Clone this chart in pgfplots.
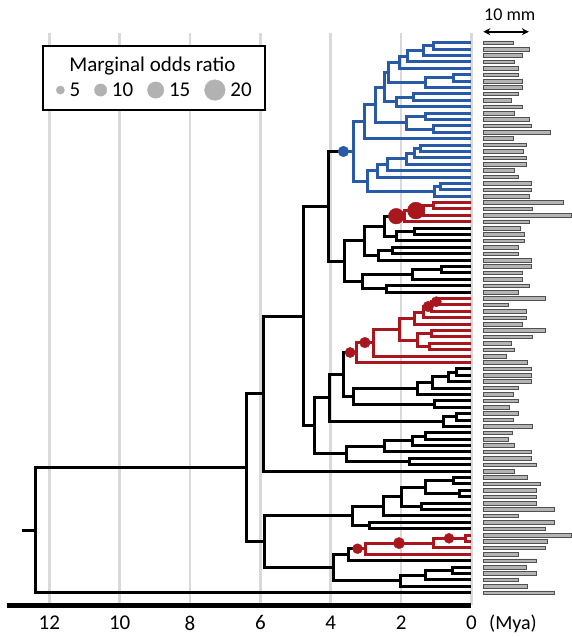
\documentclass[border=0pt]{standalone}
\usepackage{fontspec}
\setmainfont{Carlito}
\usepackage{pgfplots}
\pgfplotsset{compat=1.18}
\usepackage{pgfplotstable}
\usetikzlibrary{arrows.meta}

\definecolor{cladeblue}{RGB}{40,90,168}
\definecolor{cladered}{RGB}{168,22,30}
\definecolor{gridgray}{RGB}{217,217,217}
\definecolor{bargray}{RGB}{180,180,180}
\definecolor{baredge}{RGB}{80,80,80}
\definecolor{dotgray}{RGB}{178,178,178}

\newcommand{\bigfont}{\fontsize{21}{24}\selectfont}

% Tree branches: each bracket is (child1) -> (node) -> (node) -> (child2); x = age (Mya), y = tip row
\pgfplotstableread[row sep=\\]{
t y\\
0 0\\ 1.08 0\\ 1.08 1\\ 0 1\\ nan nan\\
1.08 0.5\\ 1.37 0.5\\ 1.37 2\\ 0 2\\ nan nan\\
1.37 1.25\\ 1.81 1.25\\ 1.81 3\\ 0 3\\ nan nan\\
1.81 2.125\\ 2.05 2.125\\ 2.05 4\\ 0 4\\ nan nan\\
0 5\\ 0.50 5\\ 0.50 6\\ 0 6\\ nan nan\\
0.50 5.5\\ 1.30 5.5\\ 1.30 7\\ 0 7\\ nan nan\\
2.05 3.0625\\ 2.36 3.0625\\ 2.36 6.25\\ 1.30 6.25\\ nan nan\\
0 8\\ 1.65 8\\ 1.65 9\\ 0 9\\ nan nan\\
1.65 8.5\\ 2.13 8.5\\ 2.13 10\\ 0 10\\ nan nan\\
2.36 4.656\\ 2.46 4.656\\ 2.46 9.25\\ 2.13 9.25\\ nan nan\\
0 11\\ 1.30 11\\ 1.30 12\\ 0 12\\ nan nan\\
0 13\\ 1.09 13\\ 1.09 14\\ 0 14\\ nan nan\\
1.30 11.5\\ 1.84 11.5\\ 1.84 13.5\\ 1.09 13.5\\ nan nan\\
2.46 6.953\\ 2.72 6.953\\ 2.72 12.5\\ 1.84 12.5\\ nan nan\\
2.72 9.727\\ 3.03 9.727\\ 3.03 15\\ 0 15\\ nan nan\\
0 16\\ 1.44 16\\ 1.44 17\\ 0 17\\ nan nan\\
1.44 16.5\\ 1.63 16.5\\ 1.63 18\\ 0 18\\ nan nan\\
1.63 17.25\\ 1.86 17.25\\ 1.86 19\\ 0 19\\ nan nan\\
1.86 18.125\\ 2.39 18.125\\ 2.39 20\\ 0 20\\ nan nan\\
2.39 19.0625\\ 2.67 19.0625\\ 2.67 21\\ 0 21\\ nan nan\\
0 22\\ 0.88 22\\ 0.88 23\\ 0 23\\ nan nan\\
0.88 22.5\\ 1.06 22.5\\ 1.06 24\\ 0 24\\ nan nan\\
2.67 20.031\\ 2.96 20.031\\ 2.96 23.25\\ 1.06 23.25\\ nan nan\\
3.03 12.363\\ 3.36 12.363\\ 3.36 21.641\\ 2.96 21.641\\ nan nan\\
3.64 17.002\\ 3.36 17.002\\
}\bluetree

\pgfplotstableread[row sep=\\]{
t y\\
0 25\\ 1.08 25\\ 1.08 26\\ 0 26\\ nan nan\\
1.08 25.5\\ 1.37 25.5\\ 1.37 27\\ 0 27\\ nan nan\\
1.37 26.25\\ 1.90 26.25\\ 1.90 28\\ 0 28\\ nan nan\\
2.14 27.125\\ 1.90 27.125\\ nan nan\\
0 40\\ 0.94 40\\ 0.94 41\\ 0 41\\ nan nan\\
0.94 40.5\\ 1.13 40.5\\ 1.13 42\\ 0 42\\ nan nan\\
1.13 41.25\\ 1.37 41.25\\ 1.37 43\\ 0 43\\ nan nan\\
1.37 42.125\\ 1.63 42.125\\ 1.63 44\\ 0 44\\ nan nan\\
0 45\\ 1.13 45\\ 1.13 46\\ 0 46\\ nan nan\\
0 47\\ 1.18 47\\ 1.18 48\\ 0 48\\ nan nan\\
1.13 45.5\\ 1.54 45.5\\ 1.54 47.5\\ 1.18 47.5\\ nan nan\\
1.63 43.0625\\ 2.05 43.0625\\ 2.05 46.5\\ 1.54 46.5\\ nan nan\\
2.05 44.781\\ 2.79 44.781\\ 2.79 49\\ 0 49\\ nan nan\\
2.79 46.891\\ 3.28 46.891\\ 3.28 50\\ 0 50\\ nan nan\\
3.45 48.445\\ 3.28 48.445\\ nan nan\\
0 77\\ 0.17 77\\ 0.17 78\\ 0 78\\ nan nan\\
0.17 77.5\\ 1.08 77.5\\ 1.08 79\\ 0 79\\ nan nan\\
1.08 78.25\\ 3.00 78.25\\ 3.00 80\\ 0 80\\ nan nan\\
3.24 79.125\\ 3.00 79.125\\
}\redtree

\pgfplotstableread[row sep=\\]{
t y\\
3.64 17.002\\ 4.07 17.002\\ 4.07 34.172\\ 3.60 34.172\\ nan nan\\
0 29\\ 1.63 29\\ 1.63 30\\ 0 30\\ nan nan\\
1.63 29.5\\ 2.13 29.5\\ 2.13 31\\ 0 31\\ nan nan\\
2.14 27.125\\ 2.48 27.125\\ 2.48 30.25\\ 2.13 30.25\\ nan nan\\
0 32\\ 2.24 32\\ 2.24 33\\ 0 33\\ nan nan\\
2.24 32.5\\ 2.65 32.5\\ 2.65 34\\ 0 34\\ nan nan\\
2.48 28.688\\ 3.03 28.688\\ 3.03 33.25\\ 2.65 33.25\\ nan nan\\
0 35\\ 0.85 35\\ 0.85 36\\ 0 36\\ nan nan\\
0.85 35.5\\ 1.67 35.5\\ 1.67 37\\ 0 37\\ nan nan\\
0 38\\ 2.43 38\\ 2.43 39\\ 0 39\\ nan nan\\
1.67 36.25\\ 3.09 36.25\\ 3.09 38.5\\ 2.43 38.5\\ nan nan\\
3.03 30.969\\ 3.60 30.969\\ 3.60 37.375\\ 3.09 37.375\\ nan nan\\
0 51\\ 0.42 51\\ 0.42 52\\ 0 52\\ nan nan\\
0.42 51.5\\ 0.66 51.5\\ 0.66 53\\ 0 53\\ nan nan\\
0.66 52.25\\ 1.10 52.25\\ 1.10 54\\ 0 54\\ nan nan\\
1.10 53.125\\ 1.54 53.125\\ 1.54 55\\ 0 55\\ nan nan\\
0 56\\ 1.04 56\\ 1.04 57\\ 0 57\\ nan nan\\
1.54 54.0625\\ 3.36 54.0625\\ 3.36 56.5\\ 1.04 56.5\\ nan nan\\
3.45 48.445\\ 3.65 48.445\\ 3.65 55.281\\ 3.36 55.281\\ nan nan\\
0 58\\ 0.42 58\\ 0.42 59\\ 0 59\\ nan nan\\
0.42 58.5\\ 0.80 58.5\\ 0.80 60\\ 0 60\\ nan nan\\
3.65 51.863\\ 4.04 51.863\\ 4.04 59.25\\ 0.80 59.25\\ nan nan\\
0 61\\ 1.30 61\\ 1.30 62\\ 0 62\\ nan nan\\
1.30 61.5\\ 1.68 61.5\\ 1.68 63\\ 0 63\\ nan nan\\
1.68 62.25\\ 2.46 62.25\\ 2.46 64\\ 0 64\\ nan nan\\
0 65\\ 1.77 65\\ 1.77 66\\ 0 66\\ nan nan\\
2.46 63.125\\ 3.55 63.125\\ 3.55 65.5\\ 1.77 65.5\\ nan nan\\
4.04 55.557\\ 4.47 55.557\\ 4.47 64.313\\ 3.55 64.313\\ nan nan\\
4.07 25.587\\ 4.78 25.587\\ 4.78 59.935\\ 4.47 59.935\\ nan nan\\
4.78 42.761\\ 5.91 42.761\\ 5.91 67\\ 0 67\\ nan nan\\
0 68\\ 0.50 68\\ 0.50 69\\ 0 69\\ nan nan\\
0 70\\ 0.33 70\\ 0.33 71\\ 0 71\\ nan nan\\
0.50 68.5\\ 1.30 68.5\\ 1.30 70.5\\ 0.33 70.5\\ nan nan\\
0 72\\ 1.42 72\\ 1.42 73\\ 0 73\\ nan nan\\
1.30 69.5\\ 2.00 69.5\\ 2.00 72.5\\ 1.42 72.5\\ nan nan\\
2.00 71\\ 2.51 71\\ 2.51 74\\ 0 74\\ nan nan\\
0 75\\ 2.89 75\\ 2.89 76\\ 0 76\\ nan nan\\
2.51 72.5\\ 3.38 72.5\\ 3.38 75.5\\ 2.89 75.5\\ nan nan\\
3.24 79.125\\ 3.50 79.125\\ 3.50 81\\ 0 81\\ nan nan\\
0 82\\ 0.53 82\\ 0.53 83\\ 0 83\\ nan nan\\
0.53 82.5\\ 1.32 82.5\\ 1.32 84\\ 0 84\\ nan nan\\
1.32 83.25\\ 2.03 83.25\\ 2.03 85\\ 0 85\\ nan nan\\
3.50 80.0625\\ 3.93 80.0625\\ 3.93 84.125\\ 2.03 84.125\\ nan nan\\
3.38 74\\ 5.87 74\\ 5.87 82.094\\ 3.93 82.094\\ nan nan\\
5.91 54.881\\ 6.39 54.881\\ 6.39 78.047\\ 5.87 78.047\\ nan nan\\
6.39 66.464\\ 12.38 66.464\\ 12.38 86\\ 0 86\\ nan nan\\
12.79 76.232\\ 12.38 76.232\\
}\blacktree

% Marginal odds ratio estimates placed on branches
\pgfplotstableread[row sep=\\]{
t y odds\\
3.64 17.002 8\\
}\bluedots

\pgfplotstableread[row sep=\\]{
t y odds\\
2.14 27.125 14\\
1.58 26.25 15.5\\
1.00 40.5 7.5\\
1.23 41.25 8\\
3.03 46.891 8\\
3.45 48.445 7.5\\
0.64 77.5 7.2\\
2.06 78.25 8.8\\
3.24 79.125 7.2\\
}\reddots

% Trait length per tip (mm)
\pgfplotstableread[row sep=\\]{
tip len\\
0 6.6\\ 1 10.1\\ 2 8.6\\ 3 6.9\\ 4 7.7\\ 5 7.7\\ 6 8.6\\ 7 8.6\\ 8 7.7\\ 9 6.1\\
10 8.6\\ 11 6.9\\ 12 10.1\\ 13 10.5\\ 14 14.8\\ 15 6.6\\ 16 9.4\\ 17 8.8\\ 18 9.4\\ 19 9.4\\
20 6.9\\ 21 7.7\\ 22 10.5\\ 23 10.5\\ 24 10.1\\ 25 17.5\\ 26 10.8\\ 27 19.4\\ 28 10.1\\ 29 8.2\\
30 8.9\\ 31 8.9\\ 32 7.7\\ 33 7.7\\ 34 10.5\\ 35 10.5\\ 36 8.6\\ 37 8.6\\ 38 10.1\\ 39 7.7\\
40 13.7\\ 41 5.4\\ 42 9.4\\ 43 9.4\\ 44 8.6\\ 45 13.7\\ 46 10.8\\ 47 6.1\\ 48 6.9\\ 49 5.0\\
50 9.7\\ 51 10.5\\ 52 10.5\\ 53 10.5\\ 54 7.7\\ 55 6.6\\ 56 7.7\\ 57 5.8\\ 58 7.7\\ 59 6.6\\
60 10.8\\ 61 6.4\\ 62 5.4\\ 63 6.9\\ 64 10.5\\ 65 10.5\\ 66 11.6\\ 67 6.9\\ 68 9.7\\ 69 12.4\\
70 11.6\\ 71 11.6\\ 72 11.6\\ 73 15.5\\ 74 7.7\\ 75 15.5\\ 76 13.7\\ 77 19.4\\ 78 14.0\\ 79 13.7\\
80 7.7\\ 81 11.6\\ 82 9.4\\ 83 11.6\\ 84 7.7\\ 85 9.7\\ 86 15.5\\
}\barlengths

\begin{document}
\begin{tikzpicture}
\useasboundingbox (0pt,0pt) rectangle (572pt,-637pt);

\begin{axis}[
  at={(7.1pt,-33pt)}, anchor=north west,
  scale only axis, width=464.4pt, height=572pt,
  xmin=0, xmax=13.2, x dir=reverse,
  ymin=-1.52, ymax=87.93, y dir=reverse,
  axis x line*=bottom, axis y line=none,
  x axis line style={line width=5pt, -},
  xtick={0,2,...,12}, ytick=\empty,
  major tick length=0pt,
  xmajorgrids, grid style={gridgray, line width=2.6pt},
  xticklabel style={font=\bigfont, anchor=north, inner sep=0pt, yshift=-10.5pt},
  /pgf/number format/assume math mode=true,
  unbounded coords=jump,
  legend columns=4,
  legend cell align=left,
  legend style={at={(axis cs:9.0,7.4)}, anchor=center, draw=none, fill=none,
    font=\bigfont,
    /tikz/every odd column/.append style={column sep=3pt},
    /tikz/every even column/.append style={column sep=12pt}},
]
\addplot[black, line width=3pt, forget plot] table[x=t,y=y]{\blacktree};
\addplot[cladeblue, line width=3pt, forget plot] table[x=t,y=y]{\bluetree};
\addplot[cladered, line width=3pt, forget plot] table[x=t,y=y]{\redtree};

\addplot[scatter, only marks, mark=*, forget plot,
  scatter/use mapped color={draw=cladeblue, fill=cladeblue},
  visualization depends on={2+0.415*\thisrow{odds} \as \dotrad},
  scatter/@pre marker code/.append style={/tikz/mark size=\dotrad pt}]
  table[x=t,y=y]{\bluedots};
\addplot[scatter, only marks, mark=*, forget plot,
  scatter/use mapped color={draw=cladered, fill=cladered},
  visualization depends on={2+0.415*\thisrow{odds} \as \dotrad},
  scatter/@pre marker code/.append style={/tikz/mark size=\dotrad pt}]
  table[x=t,y=y]{\reddots};

% legend frame and title
\draw[fill=white, line width=2pt] (axis cs:12.19,0.516) rectangle (axis cs:5.87,10.52);
\node[font=\bigfont, anchor=base] at (axis cs:9.07,4.43) {Marginal odds ratio};

\addlegendimage{legend image code/.code={\fill[dotgray] (0pt,0pt) circle (4.1pt);}}
\addlegendentry{5}
\addlegendimage{legend image code/.code={\fill[dotgray] (0pt,0pt) circle (6.15pt);}}
\addlegendentry{10}
\addlegendimage{legend image code/.code={\fill[dotgray] (0pt,0pt) circle (8.2pt);}}
\addlegendentry{15}
\addlegendimage{legend image code/.code={\fill[dotgray] (0pt,0pt) circle (10.3pt);}}
\addlegendentry{20}
\end{axis}

\node[font=\fontsize{20}{24}\selectfont, anchor=base] at (513pt,-629.7pt) {(Mya)};

\begin{axis}[
  at={(483.3pt,-33pt)}, anchor=north west,
  scale only axis, width=88.7pt, height=572pt,
  xmin=0, xmax=19.45, ymin=-1.52, ymax=87.93, y dir=reverse,
  hide axis, clip=false,
]
\addplot[xbar, bar width=3.6pt, bar shift=0pt, fill=bargray, draw=baredge, line width=0.7pt]
  table[x=len,y=tip]{\barlengths};
\draw[{Stealth[length=7pt,width=7pt]}-{Stealth[length=7pt,width=7pt]}, line width=2pt]
  (axis cs:0,-1.72) -- (axis cs:10,-1.72);
\node[font=\fontsize{18}{20}\selectfont, anchor=base, yshift=11.7pt] at (axis cs:5.8,-1.72) {10 mm};
\end{axis}
\end{tikzpicture}
\end{document}
